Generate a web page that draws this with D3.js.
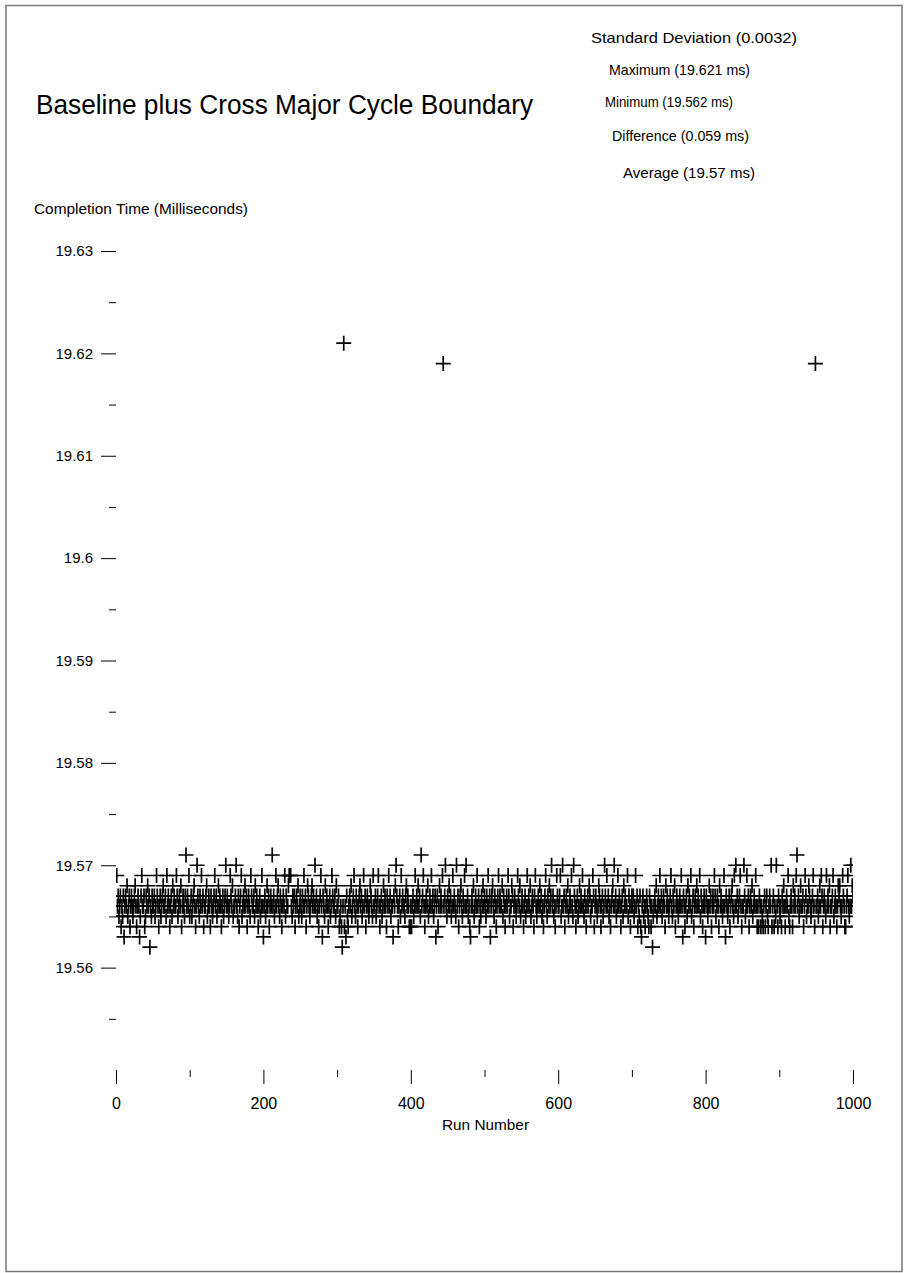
<!DOCTYPE html>
<html>
<head>
<meta charset="utf-8">
<script src="https://cdn.jsdelivr.net/npm/d3@7"></script>
<style>
  body { margin: 0; background: #fff; }
  text { font-family: "Liberation Sans", Arial, sans-serif; fill: #000; }
</style>
</head>
<body>
<div id="chart"></div>
<script>
// Data
var title       = 'Baseline plus Cross Major Cycle Boundary';
var statLines   = ['Standard Deviation  (0.0032)', 'Maximum (19.621 ms)', 'Minimum (19.562 ms)',
                   'Difference (0.059 ms)', 'Average (19.57 ms)'];
var yMajorTicks = [19.56, 19.57, 19.58, 19.59, 19.6, 19.61, 19.62, 19.63];
var yMinorTicks = [19.555, 19.565, 19.575, 19.585, 19.595, 19.605, 19.615, 19.625];
var xMajorTicks = [0, 200, 400, 600, 800, 1000];
var xMinorTicks = [100, 300, 500, 700, 900];

// completion time per run (runs 1..1000), one code per run
// '2'..'9' = 19.562..19.569 ms, 'a' = 19.570, 'b' = 19.571, 'x' = 19.619, 'y' = 19.621
var codeValues = {'2': 19.562, '3': 19.563, '4': 19.564, '5': 19.565, '6': 19.566, '7': 19.567,
                  '8': 19.568, '9': 19.569, 'a': 19.570, 'b': 19.571, 'x': 19.619, 'y': 19.621};
var runCodes = [
  '96756746573676856746765678646763579667457686726576',
  '6756976467567866759676467586766975676846 7657b67695',
  '675678646a765769674667856764765679675686 76467567a6',
  '765697685667a657467956768674676597667586 7646756963',
  '67568674676b675696786576467695766899965767467 68567',
  '6576967468765678676a67564679637658676467 5697667586',
  '67456426y4637546768567965764678675696746 7656876596',
  '67567964675686764769675663768a7646759676 6578676446',
  '4675696768675b67964676856769675673674686 769x67a657',
  '68675696765a674678657696a67564367685676 96746576867',
  '65769673678657646796766857646769756687 467656976856',
  '76467569676856764796567686756467965768 67a675646976',
  '67956a67467685676965a76467568676965764 676875669746',
  '765687646756a769675646786a67569676467 5867669576467',
  '67569674657436756467654764625676856769 675676486765',
  '67965768467656769637646758676956746768 676957646763',
  '76568674676975676486765696376567467865 96a675679646',
  '6a7569674676856769646476465467467546 76a467465a6476',
  '56476864676954676486769b67568667469756 6876567964x6',
  '67568697467659676846679567646878656976 44679656a687a'
].join('').replace(/\s/g, '');

var runNumbers = d3.range(1, runCodes.length + 1);
var runTimes   = runCodes.split('').map(function(c){ return codeValues[c]; });

var chart_width  = 906;
var chart_height = 1273;

var svg = d3.select('#chart')
            .append('svg')
            .attr('width', chart_width)
            .attr('height', chart_height);

// page frame
svg.append('rect')
   .attr('x', 6).attr('y', 5.5)
   .attr('width', 896).attr('height', 1266)
   .attr('fill', 'none')
   .attr('stroke', '#7a7a7a')
   .attr('stroke-width', 1.5);

// Scales
var x = d3.scaleLinear().domain([0, 1000]).range([116, 853]);
var y = d3.scaleLinear().domain([19.55, 19.63]).range([1070, 251]);

// Title and summary text (the original font is a narrow one, so widths are pinned)
svg.append('text')
   .attr('x', 36).attr('y', 114)
   .attr('textLength', 497)
   .attr('lengthAdjust', 'spacingAndGlyphs')
   .style('font-size', '27px')
   .text(title);

var statX = [591, 609, 605, 612, 623];
var statY = [43, 75, 107, 141, 178];
var statW = [206, 141, 128, 137, 132];
svg.selectAll('text.stat')
   .data(statLines)
   .enter()
   .append('text')
   .classed('stat', true)
   .attr('x', function(d, i){ return statX[i]; })
   .attr('y', function(d, i){ return statY[i]; })
   .attr('textLength', function(d, i){ return statW[i]; })
   .attr('lengthAdjust', 'spacingAndGlyphs')
   .style('font-size', '14.5px')
   .text(function(d){ return d; });

svg.append('text')
   .attr('x', 34).attr('y', 214)
   .attr('textLength', 214)
   .attr('lengthAdjust', 'spacingAndGlyphs')
   .style('font-size', '14.5px')
   .text('Completion Time (Milliseconds)');

// Y axis: long ticks with labels, short unlabelled ticks, no axis line
var yMajor = svg.append('g')
   .attr('transform', 'translate(116,0)')
   .call(d3.axisLeft(y).tickValues(yMajorTicks).tickSize(15).tickPadding(8)
          .tickFormat(d3.format('~g')));
var yMinor = svg.append('g')
   .attr('transform', 'translate(116,0)')
   .call(d3.axisLeft(y).tickValues(yMinorTicks).tickSize(7).tickFormat(''));

// X axis
var xMajor = svg.append('g')
   .attr('transform', 'translate(0,1070)')
   .call(d3.axisBottom(x).tickValues(xMajorTicks).tickSize(14).tickPadding(14)
          .tickFormat(d3.format('d')));
var xMinor = svg.append('g')
   .attr('transform', 'translate(0,1070)')
   .call(d3.axisBottom(x).tickValues(xMinorTicks).tickSize(7).tickFormat(''));

[yMajor, yMinor, xMajor, xMinor].forEach(function(g){
  g.select('.domain').remove();
  g.selectAll('line').attr('stroke', '#000').attr('stroke-width', 1);
  g.selectAll('text').style('font-family', '"Liberation Sans", Arial, sans-serif');
});
yMajor.selectAll('text').style('font-size', '15px');
xMajor.selectAll('text').style('font-size', '16px');

svg.append('text')
   .attr('x', 442).attr('y', 1130)
   .attr('textLength', 87)
   .attr('lengthAdjust', 'spacingAndGlyphs')
   .style('font-size', '14.5px')
   .text('Run Number');

// Plot area clip
svg.append('clipPath')
   .attr('id', 'plot-clip')
   .append('rect')
   .attr('x', 116).attr('y', 230)
   .attr('width', 737).attr('height', 840);

// Plus markers, one per run
var size = 7.5;
var marks = svg.append('g')
   .attr('clip-path', 'url(#plot-clip)')
   .selectAll('path')
   .data(runNumbers)
   .enter()
   .append('path')
   .attr('d', function(d, i){
     var cx = x(d), cy = y(runTimes[i]);
     return 'M' + (cx - size) + ',' + cy + 'H' + (cx + size) +
            'M' + cx + ',' + (cy - size) + 'V' + (cy + size);
   })
   .attr('fill', 'none')
   .attr('stroke', '#000')
   .attr('stroke-width', 1.7);
</script>
</body>
</html>
